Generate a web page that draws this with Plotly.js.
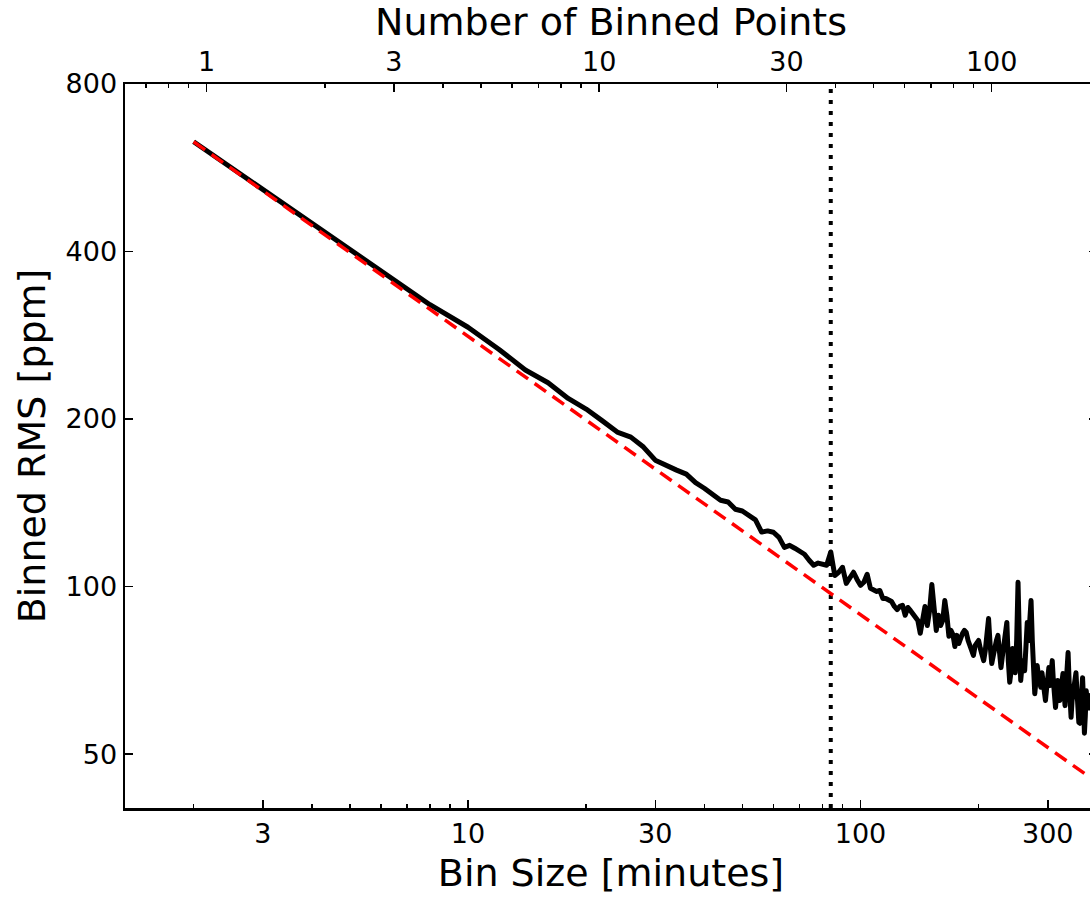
<!DOCTYPE html>
<html>
<head>
<meta charset="utf-8">
<script src="https://cdn.plot.ly/plotly-3.0.1.min.js"></script>
<style>
  html, body { margin: 0; padding: 0; overflow: hidden; background: #fff; }
  #chart { width: 1100px; height: 898px; }
  .js-line { stroke-linejoin: round; }
</style>
</head>
<body>
<div id="chart"></div>
<script>
// Bin size of each binned light curve, in minutes (2-minute cadence)
const binMinutes = [
  2, 4, 6, 8, 10, 12, 14, 16, 18, 20,
  22, 24, 26, 28, 30, 32, 34, 36, 38, 40,
  42, 44, 46, 48, 50, 52, 54, 56, 58, 60,
  62, 64, 66, 68, 70, 72, 74, 76, 78, 80,
  82, 84, 86, 88, 90, 92, 94, 96, 98, 100,
  102, 104, 106, 108, 110, 112, 114, 116, 118, 120,
  122, 124, 126, 128, 130, 132, 134, 136, 138, 140,
  142, 144, 146, 148, 150, 152, 154, 156, 158, 160,
  162, 164, 166, 168, 170, 172, 174, 176, 178, 180,
  182, 184, 186, 188, 190, 192, 194, 196, 198, 200,
  202, 204, 206, 208, 210, 212, 214, 216, 218, 220,
  222, 224, 226, 228, 230, 232, 234, 236, 238, 240,
  242, 244, 246, 248, 250, 252, 254, 256, 258, 260,
  262, 264, 266, 268, 270, 272, 274, 276, 278, 280,
  282, 284, 286, 288, 290, 292, 294, 296, 298, 300,
  302, 304, 306, 308, 310, 312, 314, 316, 318, 320,
  322, 324, 326, 328, 330, 332, 334, 336, 338, 340,
  342, 344, 346, 348, 350, 352, 354, 356, 358, 360,
  362, 364, 366, 368, 370, 372, 374, 376, 378, 380,
  382, 384
];

// Measured RMS of the binned residuals, in ppm
const binnedRms = [
  630, 449.5, 367.3, 321.0, 292.4, 266.7, 245.0, 232.4, 217.8, 208.4,
  198.5, 189.5, 185.6, 178.1, 168.7, 164.9, 161.9, 159.2, 153.7, 150.2,
  146.5, 142.9, 141.9, 137.7, 136.7, 134.3, 131.8, 125.3, 125.9, 125.2,
  122.6, 117.6, 118.6, 117.2, 115.7, 114.3, 111.5, 109.2, 110.2, 109.6,
  109.2, 115.4, 104.7, 106.1, 108.3, 101.3, 103.9, 106.1, 103.0, 100.5,
  101.8, 105.2, 99.3, 98.8, 98.0, 98.4, 95.2, 95.2, 94.4, 94.0,
  92.1, 90.9, 92.1, 92.5, 88.8, 91.7, 90.6, 89.5, 88.0, 86.9,
  82.4, 86.9, 92.1, 85.1, 90.6, 100.9, 88.8, 83.4, 88.8, 85.1,
  86.9, 94.4, 88.8, 81.4, 83.4, 82.0, 78.0, 81.7, 79.0, 81.4,
  82.4, 83.4, 82.7, 80.0, 78.4, 76.1, 75.2, 78.4, 79.3, 80.0,
  77.4, 75.2, 73.6, 76.8, 81.7, 87.6, 78.4, 72.7, 75.2, 78.4,
  80.0, 81.7, 75.2, 71.5, 75.2, 80.0, 83.4, 86.2, 73.6, 67.3,
  70.6, 77.4, 73.6, 70.0, 80.0, 101.8, 80.0, 67.8, 72.1, 73.6,
  70.6, 76.8, 86.2, 80.0, 88.8, 94.4, 80.0, 70.6, 64.2, 67.8,
  72.1, 69.2, 67.3, 65.9, 70.0, 67.3, 64.5, 62.4, 65.6, 69.2,
  71.5, 66.4, 70.0, 73.6, 67.8, 63.7, 60.6, 63.7, 67.8, 65.6,
  62.4, 65.0, 67.8, 69.8, 65.0, 61.1, 66.4, 72.1, 76.1, 67.8,
  61.1, 58.2, 62.4, 65.0, 67.8, 69.2, 70.0, 65.0, 59.9, 57.0,
  56.8, 62.4, 65.0, 68.6, 62.4, 54.5, 58.6, 65.0, 62.4, 61.1,
  63.7, 59.9
];

// White-noise expectation (RMS falling as 1/sqrt(N)), end points
const whiteNoiseMinutes = [2, 400];
const whiteNoiseRms = [630, 44.5];

// Time scale of interest marked with the dotted vertical line
const markerMinutes = [84, 84];
const markerRms = [40, 800];

// Tick values
const binTicks = [3, 10, 30, 100, 300];
const binTickText = ['3', '10', '30', '100', '300'];
const binMinorTicks = [2, 4, 5, 6, 7, 8, 9, 20, 40, 50, 60, 70, 80, 90, 200];
const countTicks = [1, 3, 10, 30, 100];
const countTickText = ['1', '3', '10', '30', '100'];
const countMinorTicks = [0.7, 0.8, 0.9, 2, 4, 5, 6, 7, 8, 9, 20, 40, 50, 60, 70, 80, 90];
const rmsTicks = [50, 100, 200, 400, 800];
const rmsTickText = ['50', '100', '200', '400', '800'];

const binLimits = [1.337, 400.5];
const countLimits = [0.6194, 185.5];
const rmsLimits = [40, 800];

const FONT = 'DejaVu Sans, Bitstream Vera Sans, sans-serif';

const traces = [
  {
    x: markerMinutes, y: markerRms, xaxis: 'x', yaxis: 'y',
    mode: 'lines', line: {color: 'black', width: 4, dash: '4px,7px'},
    hoverinfo: 'skip', showlegend: false
  },
  {
    x: binMinutes, y: binnedRms, xaxis: 'x', yaxis: 'y',
    mode: 'lines', line: {color: 'black', width: 5},
    showlegend: false
  },
  {
    x: whiteNoiseMinutes, y: whiteNoiseRms, xaxis: 'x', yaxis: 'y',
    mode: 'lines', line: {color: 'red', width: 3.5, dash: '14px,8px'},
    showlegend: false
  },
  // empty trace that attaches the top (number of points) axis
  {
    x: [], y: [], xaxis: 'x2', yaxis: 'y',
    mode: 'lines', hoverinfo: 'skip', showlegend: false
  }
];

const tickCommon = {
  ticks: 'inside', ticklen: 8, tickwidth: 1.5, tickcolor: 'black',
  showline: true, linecolor: 'black', linewidth: 2.5,
  showgrid: false, zeroline: false,
  tickfont: {family: FONT, size: 27, color: 'black'}
};

const layout = {
  width: 1100, height: 898,
  margin: {l: 125, r: 3, t: 84, b: 90},
  paper_bgcolor: 'white', plot_bgcolor: 'white',
  showlegend: false,
  font: {family: FONT, size: 27, color: 'black'},
  xaxis: Object.assign({}, tickCommon, {
    type: 'log',
    range: binLimits.map(Math.log10),
    tickmode: 'array', tickvals: binTicks, ticktext: binTickText,
    minor: {tickmode: 'array', tickvals: binMinorTicks, ticks: 'inside',
            ticklen: 4, tickwidth: 1.5, tickcolor: 'black', showgrid: false},
    mirror: false,
    title: {text: 'Bin Size [minutes]', font: {family: FONT, size: 38, color: 'black'}, standoff: 12}
  }),
  xaxis2: Object.assign({}, tickCommon, {
    type: 'log', overlaying: 'x', side: 'top', anchor: 'y',
    range: countLimits.map(Math.log10),
    tickmode: 'array', tickvals: countTicks, ticktext: countTickText,
    minor: {tickmode: 'array', tickvals: countMinorTicks, ticks: 'inside',
            ticklen: 4, tickwidth: 1.5, tickcolor: 'black', showgrid: false},
    title: {text: 'Number of Binned Points', font: {family: FONT, size: 38, color: 'black'}, standoff: 6}
  }),
  yaxis: Object.assign({}, tickCommon, {
    type: 'log',
    range: rmsLimits.map(Math.log10),
    tickmode: 'array', tickvals: rmsTicks, ticktext: rmsTickText,
    mirror: 'ticks',
    title: {text: 'Binned RMS [ppm]', font: {family: FONT, size: 38, color: 'black'}, standoff: 9}
  })
};

Plotly.newPlot('chart', traces, layout, {staticPlot: true, displayModeBar: false});
</script>
</body>
</html>
